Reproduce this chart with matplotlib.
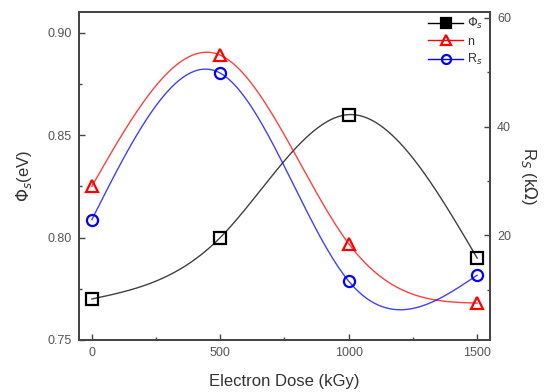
import numpy as np
import matplotlib
matplotlib.use("Agg")
import matplotlib.pyplot as plt

dose = [0, 500, 1000, 1500]
phi_s = [0.770, 0.800, 0.860, 0.790]
n_vals = [0.825, 0.889, 0.797, 0.768]
rs_vals = [22.9, 49.8, 11.6, 12.7]

def natural_spline(x, y, num=200):
    x = np.asarray(x, float); y = np.asarray(y, float)
    n = len(x)
    h = np.diff(x)
    A = np.zeros((n, n)); b = np.zeros(n)
    A[0, 0] = 1; A[-1, -1] = 1
    for i in range(1, n - 1):
        A[i, i - 1] = h[i - 1]
        A[i, i] = 2 * (h[i - 1] + h[i])
        A[i, i + 1] = h[i]
        b[i] = 3 * ((y[i + 1] - y[i]) / h[i] - (y[i] - y[i - 1]) / h[i - 1])
    c = np.linalg.solve(A, b)
    xs = np.linspace(x[0], x[-1], num)
    ys = np.empty_like(xs)
    for k, xv in enumerate(xs):
        i = min(np.searchsorted(x, xv, side='right') - 1, n - 2)
        dx = xv - x[i]
        bi = (y[i + 1] - y[i]) / h[i] - h[i] * (2 * c[i] + c[i + 1]) / 3
        di = (c[i + 1] - c[i]) / (3 * h[i])
        ys[k] = y[i] + bi * dx + c[i] * dx ** 2 + di * dx ** 3
    return xs, ys

plt.rcParams['font.family'] = ['Liberation Sans', 'DejaVu Sans']

fig = plt.figure(figsize=(5.46, 3.92), dpi=100)
ax = fig.add_axes([0.1447, 0.1327, 0.7527, 0.8363])
ax2 = ax.twinx()

mk = dict(markersize=8, markeredgewidth=1.6, markerfacecolor='none')
series = [
    (ax, phi_s, 'black', 's', r'$\Phi_s$'),
    (ax, n_vals, 'red', '^', 'n'),
    (ax2, rs_vals, 'blue', 'o', r'R$_s$'),
]
handles = []
for a, vals, col, m, lab in series:
    xs, ys = natural_spline(dose, vals)
    a.plot(xs, ys, color=col, lw=1.0, alpha=0.75)
    a.plot(dose, vals, linestyle='none', marker=m, color=col, **mk)
    h, = ax.plot([], [], color=col, marker=m, lw=1.0, markersize=6.5,
                 markeredgewidth=1.6, markerfacecolor=col if col == 'black' else 'none')
    handles.append((h, lab))

ax.set_xlim(-50, 1550)
ax.set_ylim(0.75, 0.91)
ax2.set_ylim(0.8, 61)
ax.set_xticks([0, 500, 1000, 1500])
ax.set_xticks([250, 750, 1250], minor=True)
ax.set_yticks([0.75, 0.80, 0.85, 0.90])
ax.set_yticklabels(['0.75', '0.80', '0.85', '0.90'])
ax.set_yticks([0.775, 0.825, 0.875], minor=True)
ax2.set_yticks([20, 40, 60])
ax2.set_yticks([10, 30, 50], minor=True)

tc = '#555555'
for a in (ax, ax2):
    a.tick_params(which='both', direction='in', labelsize=9, labelcolor=tc, color='#444444')
    a.tick_params(which='major', length=4, width=1, pad=5)
    a.tick_params(which='minor', length=2.5, width=1)
    for s in a.spines.values():
        s.set_linewidth(1.3)
        s.set_color('#444444')

ax.set_xlabel('Electron Dose (kGy)', fontsize=12, color='#333333', labelpad=11)
ax.set_ylabel(r'$\Phi_s$(eV)', fontsize=12, color='#333333', labelpad=10)
ax2.set_ylabel(r'R$_S$ (k$\Omega$)', fontsize=12, color='#333333', rotation=270, labelpad=20)

ax.legend([h for h, _ in handles], [l for _, l in handles], loc='upper right',
          bbox_to_anchor=(0.99, 0.995), frameon=False, fontsize=9, handlelength=2.8,
          handletextpad=0.3, labelspacing=0.35, borderaxespad=0.0, borderpad=0.2,
          labelcolor='#333333')

fig.savefig('out.png', dpi=100)
